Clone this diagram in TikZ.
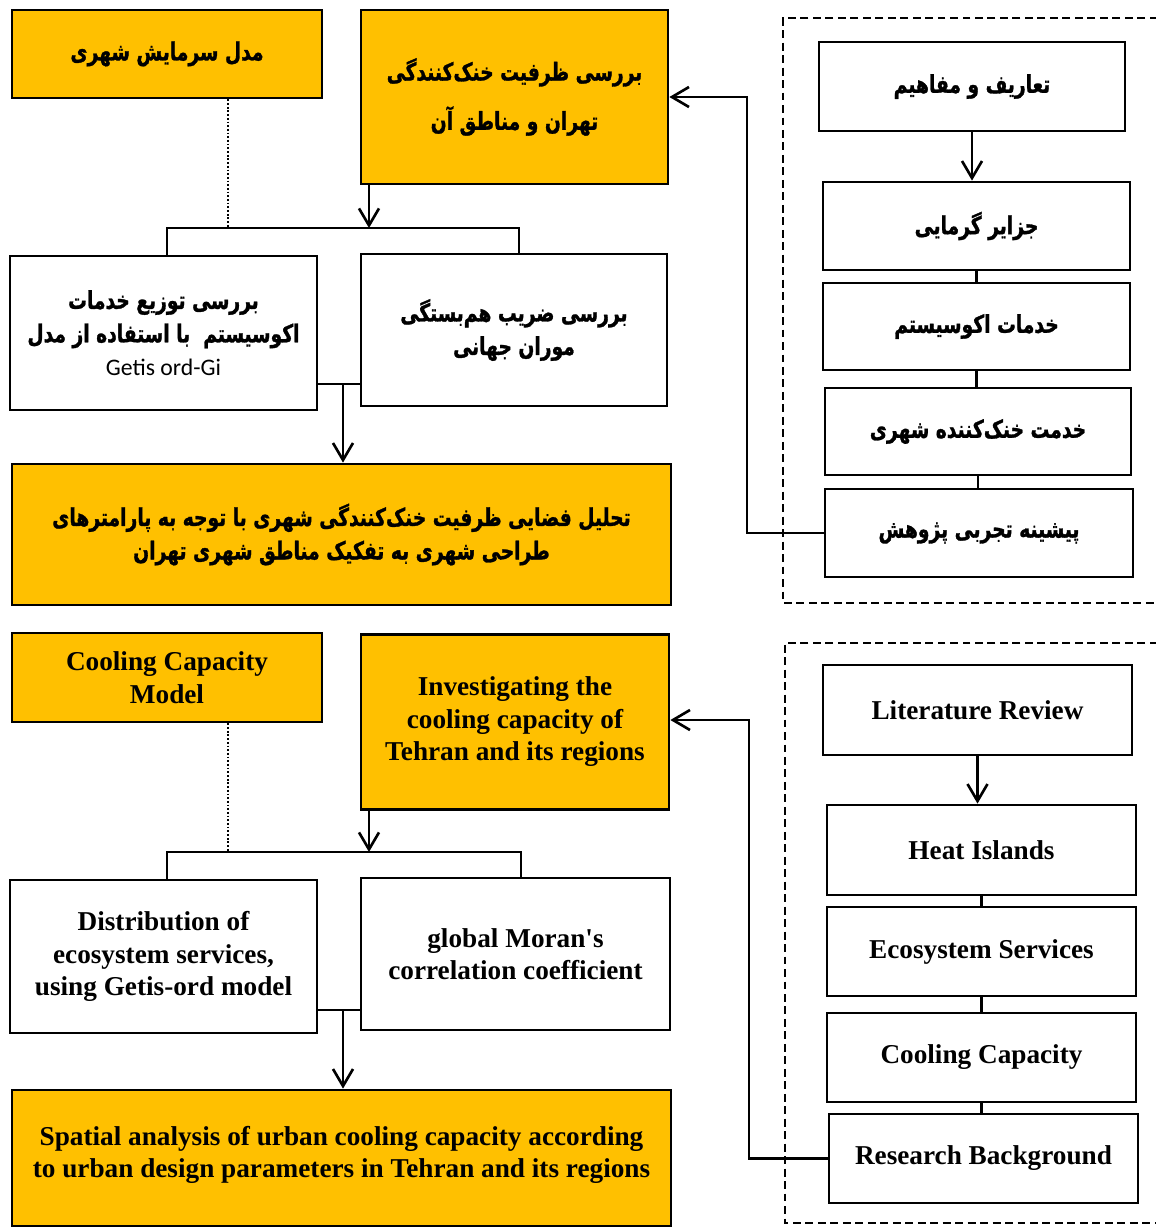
\documentclass[tikz,border=0pt]{standalone}
\usepackage{fontspec}
\setmainfont{Liberation Serif}
\newfontfamily\plainserif{Liberation Serif}
\newfontfamily\fafont[Script=Arabic, FakeStretch=0.76, BoldFeatures={FakeBold=1.2}]{DejaVu Sans}
\newfontfamily\calfont{Carlito}
\TeXXeTstate=1
\usetikzlibrary{arrows.meta}
\definecolor{gold}{HTML}{FFC000}
\tikzset{
  bxbase/.style={draw=black, line width=1.6pt, inner sep=0pt, align=center},
  ybox/.style={bxbase, fill=gold},
  wbox/.style={bxbase, fill=white},
  entext/.style={font=\bfseries\fontsize{15.5}{18.5}\selectfont},
  fatext/.style={font=\fafont\bfseries\fontsize{14}{19}\selectfont},
  conn/.style={line width=1.3pt},
  arr/.style={conn, -{Straight Barb[length=3.4mm,width=4mm,line width=1.5pt]}},
  dotline/.style={line width=1.2pt, dash pattern=on 1pt off 1.1pt},
  dashbox/.style={line width=1.3pt, dash pattern=on 4.5pt off 2.6pt},
}
\begin{document}
\begin{tikzpicture}[x=0.02cm,y=-0.02cm]
\useasboundingbox (0,0) rectangle (1156,1228);
\clip (0,0) rectangle (1156,1228);
\fill[white] (0,0) rectangle (1156,1228);

% ---------------- Persian half ----------------
\draw[dashbox] (1170,18) -- (783,18) -- (783,603) -- (1170,603);

\node[ybox, fatext, minimum width=6.2cm, minimum height=1.76cm] (A) at (167,54)
  {\beginR مدل سرمایش شهری\endR};
\node[ybox, fatext, minimum width=6.14cm, minimum height=3.48cm] (B) at (514.5,97)
  {\beginR بررسی ظرفیت خنک‌کنندگی\endR\\[9pt] \beginR تهران و مناطق آن\endR};
\node[wbox, fatext, minimum width=6.14cm, minimum height=3.08cm] (C) at (163.5,333)
  {\beginR بررسی توزیع خدمات\endR\\ \beginR اکوسیستم\ \ با استفاده از مدل\endR\\ {\calfont\mdseries\fontsize{13.5}{19}\selectfont Getis ord-Gi}};
\node[wbox, fatext, minimum width=6.12cm, minimum height=3.04cm] (D) at (514,330)
  {\beginR بررسی ضریب هم‌بستگی\endR\\ \beginR موران جهانی\endR};
\node[ybox, fatext, minimum width=13.18cm, minimum height=2.82cm] (E) at (341.5,534.5)
  {\beginR تحلیل فضایی ظرفیت خنک‌کنندگی شهری با توجه به پارامترهای\endR\\ \beginR طراحی شهری به تفکیک مناطق شهری تهران\endR};

\node[wbox, fatext, minimum width=6.12cm, minimum height=1.78cm] (F) at (972,86.5)
  {\beginR تعاریف و مفاهیم\endR};
\node[wbox, fatext, minimum width=6.14cm, minimum height=1.76cm] (G) at (976.5,226)
  {\beginR جزایر گرمایی\endR};
\node[wbox, fatext, minimum width=6.14cm, minimum height=1.74cm] (H) at (976.5,326.5)
  {\beginR خدمات اکوسیستم\endR};
\node[wbox, fatext, minimum width=6.12cm, minimum height=1.74cm] (I) at (978,431.5)
  {\beginR خدمت خنک‌کننده شهری\endR};
\node[wbox, fatext, minimum width=6.16cm, minimum height=1.76cm] (J) at (979,533)
  {\beginR پیشینه تجربی پژوهش\endR};

\coordinate (dtA) at (228,228);
\coordinate (arA) at (369,228);
\coordinate (bkLA) at (167,228);
\coordinate (bkRA) at (519,228);
\coordinate (lkA) at (343,384);
\coordinate (fbA) at (747,97);

\draw[dotline] (dtA |- A.south) -- (dtA);
\draw[arr] (arA |- B.south) -- (arA);
\draw[conn] (bkLA |- C.north) -- (bkLA) -- (bkRA) -- (bkRA |- D.north);
\draw[conn] (C.east |- lkA) -- (D.west |- lkA);
\draw[arr] (lkA) -- (lkA |- E.north);
\draw[arr] (F.south) -- (F.south |- G.north);
\draw[conn] (G.south) -- (G.south |- H.north);
\draw[conn] (H.south) -- (H.south |- I.north);
\draw[conn] (I.south) -- (I.south |- J.north);
\draw[arr] (J.west) -- (J.west -| fbA) -- (fbA) -- (B.east |- fbA);

% ---------------- English half ----------------
\draw[dashbox] (1170,643) -- (785,643) -- (785,1223) -- (1170,1223);

\node[ybox, entext, minimum width=6.2cm, minimum height=1.78cm] (A2) at (167,677.5)
  {Cooling Capacity\\ Model};
\node[ybox, entext, minimum width=6.16cm, minimum height=3.5cm] (B2) at (515,722)
  {Investigating the\\ cooling capacity of\\ Tehran and its regions};
\node[wbox, entext, minimum width=6.14cm, minimum height=3.06cm] (C2) at (163.5,956.5)
  {Distribution of\\ ecosystem services,\\ using Getis-ord model};
\node[wbox, entext, minimum width=6.18cm, minimum height=3.04cm] (D2) at (515.5,954)
  {global Moran{\plainserif\bfseries '}s\\ correlation coefficient};
\node[ybox, entext, minimum width=13.18cm, minimum height=2.72cm] (E2) at (341.5,1158)
  {\mbox{}\\[-11pt]Spatial analysis of urban cooling capacity according\\ to urban design parameters in Tehran and its regions};

\node[wbox, entext, minimum width=6.18cm, minimum height=1.8cm] (F2) at (977.5,710) {Literature Review};
\node[wbox, entext, minimum width=6.18cm, minimum height=1.8cm] (G2) at (981.5,850) {Heat Islands};
\node[wbox, entext, minimum width=6.18cm, minimum height=1.78cm] (H2) at (981.5,951.5) {Ecosystem Services};
\node[wbox, entext, minimum width=6.18cm, minimum height=1.78cm] (I2) at (981.5,1057.5) {Cooling Capacity};
\node[wbox, entext, minimum width=6.18cm, minimum height=1.78cm] (J2) at (983.5,1158.5) {Research Background};

\coordinate (dtB) at (228,852);
\coordinate (arB) at (369,852);
\coordinate (bkLB) at (167,852);
\coordinate (bkRB) at (521,852);
\coordinate (lkB) at (343,1010);
\coordinate (fbB) at (749,720);

\draw[dotline] (dtB |- A2.south) -- (dtB);
\draw[arr] (arB |- B2.south) -- (arB);
\draw[conn] (bkLB |- C2.north) -- (bkLB) -- (bkRB) -- (bkRB |- D2.north);
\draw[conn] (C2.east |- lkB) -- (D2.west |- lkB);
\draw[arr] (lkB) -- (lkB |- E2.north);
\draw[arr] (F2.south) -- (F2.south |- G2.north);
\draw[conn] (G2.south) -- (G2.south |- H2.north);
\draw[conn] (H2.south) -- (H2.south |- I2.north);
\draw[conn] (I2.south) -- (I2.south |- J2.north);
\draw[arr] (J2.west) -- (J2.west -| fbB) -- (fbB) -- (B2.east |- fbB);
\end{tikzpicture}
\end{document}
